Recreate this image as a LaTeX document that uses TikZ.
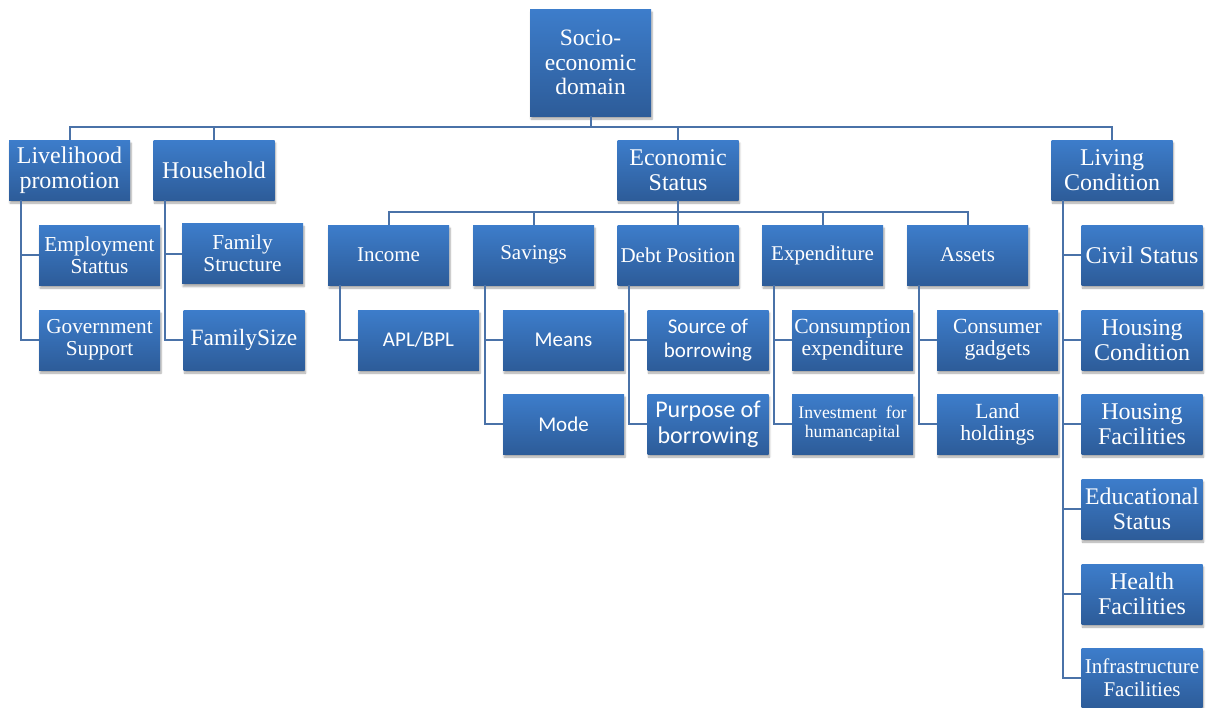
\documentclass[tikz,border=0pt]{standalone}
\usepackage{fontspec}
\setmainfont{Liberation Serif}
\newfontfamily\calib{Carlito}
\usetikzlibrary{shadows.blur}
\definecolor{boxtop}{HTML}{3D7DCB}
\definecolor{boxbot}{HTML}{2D5C99}
\definecolor{conncol}{HTML}{4A72A8}
\tikzset{
  box/.style={rectangle, top color=boxtop, bottom color=boxbot, draw=none, text=white,
    align=center, inner sep=0.5pt, minimum width=121pt, minimum height=60pt,
    blur shadow={shadow xshift=1pt, shadow yshift=-3pt, shadow opacity=35, shadow blur steps=6}},
  fA/.style={font=\fontsize{24}{25}\selectfont},
  fB/.style={font=\fontsize{21.3}{22}\selectfont},
  fC/.style={font=\fontsize{21}{22}\selectfont},
  fS/.style={font=\calib\fontsize{21}{24}\selectfont},
  conn/.style={draw=conncol, line width=2pt}
}
\begin{document}
\begin{tikzpicture}[x=1pt,y=-1pt]
\useasboundingbox (0,0) rectangle (1214,707);
% root
\node[box,font=\fontsize{23.5}{24.5}\selectfont,minimum height=107pt] (root) at (590.5,62.5) {Socio-\\economic\\domain};
% level 1
\node[box,fA] (liv) at (69.5,170) {Livelihood\\promotion};
\node[box,fA] (hh) at (214,170) {Household};
\node[box,fA] (econ) at (678,170) {Economic\\Status};
\node[box,fA] (lc) at (1112,170) {Living\\Condition};
% livelihood children
\node[box,fB] (emp) at (99.5,255) {Employment\\Stattus};
\node[box,fB] (gov) at (99.5,340) {Government\\Support};
% household children
\node[box,fB] (fs) at (242.5,253.5) {Family\\Structure};
\node[box,font=\fontsize{23.4}{25}\selectfont] (fsize) at (244,340) {FamilySize};
% economic level 2
\node[box,fC] (inc) at (388.5,255) {Income};
\node[box,fC] (sav) at (533.5,255) {Savings};
\node[box,fC] (debt) at (678,255) {Debt Position};
\node[box,fC] (expn) at (822.5,255) {Expenditure};
\node[box,fC] (ast) at (967.5,255) {Assets};
% economic level 3
\node[box,fS] (apl) at (418.5,340) {APL/BPL};
\node[box,fS] (means) at (563.5,340) {Means};
\node[box,fS] (mode) at (563.5,424) {Mode};
\node[box,font=\calib\fontsize{21}{24}\selectfont] (src) at (708,340) {Source of\\borrowing};
\node[box,font=\calib\fontsize{24}{26}\selectfont] (purp) at (708,424) {Purpose of\\borrowing};
\node[box,font=\fontsize{21.6}{22}\selectfont] (cons) at (852.5,340) {Consumption\\expenditure};
\node[box,font=\fontsize{17.7}{19}\selectfont] (inv) at (852.5,424) {Investment\ \ for\\humancapital};
\node[box,font=\fontsize{21.6}{22}\selectfont] (cg) at (997.5,340) {Consumer\\gadgets};
\node[box,font=\fontsize{21.6}{22}\selectfont] (land) at (997.5,424) {Land\\holdings};
% living condition children
\node[box,fA] (civ) at (1142,255) {Civil Status};
\node[box,fA] (hc) at (1142,340) {Housing\\Condition};
\node[box,fA] (hf) at (1142,424) {Housing\\Facilities};
\node[box,font=\fontsize{23.8}{25}\selectfont] (edu) at (1142,509) {Educational\\Status};
\node[box,fA] (hl) at (1142,594) {Health\\Facilities};
\node[box,font=\fontsize{21}{23}\selectfont] (inf) at (1142,678) {Infrastructure\\Facilities};
% connectors top
\draw[conn] (root.south) -- ++(0,11) coordinate (bus1);
\draw[conn] (bus1) -| (liv.north);
\draw[conn] (bus1) -| (hh.north);
\draw[conn] (bus1) -| (econ.north);
\draw[conn] (bus1) -| (lc.north);
% economic bus
\draw[conn] (econ.south) -- ++(0,12) coordinate (bus2);
\draw[conn] (bus2) -| (inc.north);
\draw[conn] (bus2) -| (sav.north);
\draw[conn] (bus2) -| (debt.north);
\draw[conn] (bus2) -| (expn.north);
\draw[conn] (bus2) -| (ast.north);
% side connectors
\draw[conn] (liv.south west) ++(12,0) |- (emp.west);
\draw[conn] (liv.south west) ++(12,0) |- (gov.west);
\draw[conn] (hh.south west) ++(12,0) |- (fs.west);
\draw[conn] (hh.south west) ++(12,0) |- (fsize.west);
\draw[conn] (inc.south west) ++(12,0) |- (apl.west);
\draw[conn] (sav.south west) ++(12,0) |- (means.west);
\draw[conn] (sav.south west) ++(12,0) |- (mode.west);
\draw[conn] (debt.south west) ++(12,0) |- (src.west);
\draw[conn] (debt.south west) ++(12,0) |- (purp.west);
\draw[conn] (expn.south west) ++(12,0) |- (cons.west);
\draw[conn] (expn.south west) ++(12,0) |- (inv.west);
\draw[conn] (ast.south west) ++(12,0) |- (cg.west);
\draw[conn] (ast.south west) ++(12,0) |- (land.west);
\foreach \c in {civ,hc,hf,edu,hl,inf}
  \draw[conn] (lc.south west) ++(12,0) |- (\c.west);
\end{tikzpicture}
\end{document}
